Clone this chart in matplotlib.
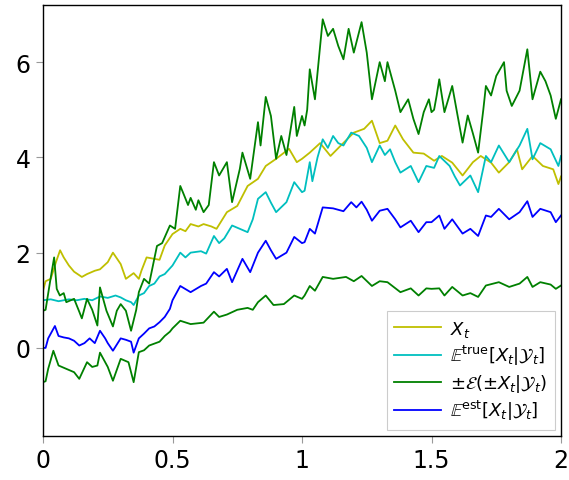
import matplotlib
matplotlib.use("Agg")
import matplotlib.pyplot as plt

plt.rcParams['mathtext.fontset'] = 'dejavusans'
plt.rcParams['font.family'] = ['DejaVu Sans']

# (t, value) samples
x_t_pts = [(0,1.2),(0.01,1.4),(0.03,1.45),(0.05,1.8),(0.066,2.05),(0.08,1.9),(0.1,1.73),(0.12,1.6),
           (0.15,1.49),(0.17,1.55),(0.2,1.62),(0.22,1.65),(0.25,1.8),(0.27,2.0),(0.3,1.76),(0.32,1.45),
           (0.35,1.57),(0.37,1.45),(0.38,1.62),(0.4,1.9),(0.42,1.88),(0.45,1.85),(0.47,2.15),(0.5,2.39),
           (0.53,2.5),(0.55,2.45),(0.57,2.6),(0.6,2.55),(0.62,2.6),(0.65,2.55),(0.67,2.5),(0.71,2.85),(0.75,2.98),
           (0.79,3.4),(0.83,3.55),(0.86,3.82),(0.9,3.97),(0.95,4.18),(0.98,3.9),(1.0,3.97),(1.03,4.1),
           (1.07,4.3),(1.11,4.03),(1.15,4.25),(1.2,4.52),(1.24,4.6),(1.27,4.77),(1.3,4.3),(1.33,4.35),
           (1.36,4.67),(1.39,4.38),(1.43,4.1),(1.47,4.08),(1.51,3.93),(1.54,4.03),(1.58,3.89),(1.62,3.62),
           (1.66,3.9),(1.69,4.03),(1.73,3.89),(1.76,3.68),(1.8,3.9),(1.83,4.17),(1.85,3.75),(1.89,4.03),
           (1.93,3.82),(1.97,3.75),(1.99,3.44),(2.0,3.6)]

e_true_pts = [(0,1.0),(0.03,1.02),(0.06,0.98),(0.1,1.02),(0.13,1.0),(0.16,1.03),(0.19,1.0),(0.22,1.08),
              (0.25,1.05),(0.28,1.1),(0.3,1.06),(0.32,1.0),(0.34,0.96),(0.35,0.9),(0.37,1.1),(0.39,1.15),
              (0.41,1.3),(0.43,1.35),(0.45,1.5),(0.47,1.55),(0.5,1.73),(0.53,2.0),(0.55,1.9),(0.57,2.0),
              (0.61,2.03),(0.63,1.98),(0.66,2.35),(0.68,2.2),(0.7,2.3),(0.73,2.57),(0.76,2.5),(0.79,2.43),
              (0.81,2.7),(0.83,3.13),(0.86,3.27),(0.88,3.05),(0.9,2.85),(0.94,3.06),(0.97,3.48),(1.0,3.27),
              (1.01,3.3),(1.03,3.9),(1.04,3.5),(1.06,4.0),(1.08,4.38),(1.1,4.2),(1.12,4.45),(1.14,4.3),
              (1.16,4.25),(1.19,4.52),(1.22,4.45),(1.25,4.2),(1.27,3.9),(1.3,4.25),(1.32,4.05),(1.34,4.17),
              (1.36,3.9),(1.38,3.68),(1.42,3.82),(1.45,3.48),(1.48,3.82),(1.51,3.78),(1.53,4.03),(1.57,3.82),
              (1.59,3.6),(1.61,3.41),(1.65,3.62),(1.68,3.27),(1.71,4.03),(1.73,3.9),(1.76,4.25),(1.8,3.9),
              (1.84,4.25),(1.87,4.6),(1.89,3.96),(1.92,4.3),(1.96,4.17),(1.99,3.82),(2.0,4.03)]

upper_pts = [(0,0.78),(0.01,0.8),(0.027,1.38),(0.043,1.9),(0.053,1.24),(0.065,1.1),(0.08,1.15),(0.09,0.96),
             (0.12,1.03),(0.14,0.76),(0.15,0.62),(0.17,1.03),(0.19,0.8),(0.21,0.47),(0.22,1.27),(0.245,0.78),
             (0.27,0.45),(0.285,0.78),(0.3,0.92),(0.32,0.78),(0.34,0.36),(0.36,0.8),(0.37,1.17),(0.39,1.45),
             (0.41,1.35),(0.44,2.14),(0.46,2.2),(0.49,2.57),(0.51,2.5),(0.53,3.4),(0.54,3.27),(0.56,3.0),(0.57,3.15),
             (0.59,2.9),(0.6,3.1),(0.62,2.85),(0.64,3.0),(0.66,3.9),(0.68,3.62),(0.71,3.9),(0.73,3.06),(0.76,3.76),
             (0.77,4.1),(0.8,3.55),(0.83,4.74),(0.84,4.25),(0.86,5.27),(0.88,4.87),(0.9,3.97),(0.92,4.45),
             (0.94,4.05),(0.97,5.06),(0.98,4.45),(1.0,4.87),(1.01,4.67),(1.02,5.0),(1.03,5.85),(1.05,5.22),
             (1.07,6.34),(1.08,6.9),(1.1,6.55),(1.12,6.7),(1.14,6.34),(1.16,6.06),(1.18,6.7),(1.2,6.2),
             (1.23,6.84),(1.25,6.2),(1.27,5.22),(1.3,6.0),(1.32,5.6),(1.33,6.0),(1.36,5.4),(1.38,4.95),
             (1.41,5.22),(1.43,4.81),(1.45,4.49),(1.47,4.95),(1.49,5.22),(1.5,4.95),(1.51,5.0),(1.52,5.3),
             (1.53,5.64),(1.55,4.95),(1.58,5.5),(1.6,4.9),(1.62,4.31),(1.64,4.88),(1.66,4.5),(1.68,4.1),
             (1.7,5.0),(1.71,5.5),(1.73,5.3),(1.75,5.71),(1.78,6.0),(1.79,5.4),(1.81,5.08),(1.84,5.4),
             (1.87,6.27),(1.89,5.22),(1.92,5.8),(1.94,5.6),(1.96,5.3),(1.98,4.81),(2.0,5.22)]

lower_pts = [(0,-0.72),(0.01,-0.7),(0.02,-0.44),(0.04,-0.06),(0.06,-0.37),(0.09,-0.44),(0.12,-0.51),
             (0.14,-0.65),(0.17,-0.3),(0.19,-0.4),(0.21,-0.37),(0.22,-0.1),(0.25,-0.4),(0.27,-0.69),
             (0.3,-0.23),(0.33,-0.3),(0.35,-0.72),(0.37,-0.09),(0.39,-0.05),(0.41,0.05),(0.45,0.13),
             (0.47,0.25),(0.49,0.34),(0.5,0.41),(0.53,0.57),(0.57,0.5),(0.62,0.53),(0.66,0.76),(0.68,0.65),
             (0.71,0.7),(0.75,0.8),(0.79,0.84),(0.81,0.8),(0.83,0.96),(0.86,1.1),(0.89,0.9),(0.93,0.92),
             (0.97,1.1),(1.0,1.03),(1.01,1.1),(1.03,1.3),(1.05,1.2),(1.08,1.49),(1.12,1.45),(1.17,1.49),
             (1.2,1.4),(1.23,1.51),(1.27,1.3),(1.3,1.4),(1.33,1.38),(1.38,1.17),(1.42,1.25),(1.45,1.1),
             (1.48,1.25),(1.5,1.24),(1.53,1.25),(1.55,1.1),(1.58,1.28),(1.62,1.1),(1.65,1.15),(1.68,1.07),
             (1.71,1.31),(1.76,1.38),(1.8,1.28),(1.84,1.35),(1.87,1.49),(1.89,1.28),(1.92,1.38),(1.96,1.33),
             (1.98,1.24),(2.0,1.31)]

e_est_pts = [(0,0.0),(0.01,0.0),(0.02,0.2),(0.046,0.46),(0.06,0.25),(0.08,0.22),(0.1,0.2),(0.12,0.15),
             (0.14,0.05),(0.16,0.1),(0.18,0.2),(0.2,0.1),(0.22,0.36),(0.24,0.2),(0.25,0.1),(0.27,-0.06),
             (0.3,0.2),(0.32,0.17),(0.34,0.13),(0.35,-0.1),(0.37,0.2),(0.39,0.3),(0.41,0.41),(0.43,0.45),
             (0.45,0.54),(0.47,0.65),(0.49,0.82),(0.5,1.0),(0.53,1.3),(0.57,1.17),(0.61,1.3),(0.63,1.35),
             (0.66,1.59),(0.68,1.5),(0.71,1.66),(0.73,1.38),(0.77,1.87),(0.8,1.59),(0.83,2.0),(0.86,2.25),
             (0.88,2.05),(0.9,1.87),(0.94,2.0),(0.97,2.33),(1.0,2.2),(1.01,2.22),(1.03,2.5),(1.05,2.4),
             (1.08,2.95),(1.12,2.93),(1.16,2.87),(1.19,3.06),(1.21,2.95),(1.23,3.07),(1.25,2.9),(1.27,2.67),
             (1.3,2.88),(1.33,2.92),(1.36,2.7),(1.38,2.53),(1.42,2.67),(1.45,2.43),(1.48,2.64),(1.5,2.64),
             (1.53,2.78),(1.55,2.5),(1.58,2.7),(1.62,2.4),(1.65,2.5),(1.68,2.35),(1.71,2.78),(1.73,2.75),
             (1.76,2.92),(1.8,2.7),(1.84,2.85),(1.87,3.08),(1.89,2.75),(1.92,2.92),(1.96,2.85),(1.98,2.64),
             (2.0,2.78)]

labels = [r'$X_t$',
          r'$\mathbb{E}^{\mathsf{true}}[X_t|\mathcal{Y}_t]$',
          r'$\pm\mathcal{E}(\pm X_t|\mathcal{Y}_t)$',
          r'$\mathbb{E}^{\mathsf{est}}[X_t|\mathcal{Y}_t]$']
x_ticks = [0, 0.5, 1, 1.5, 2]
x_tick_labels = ['0', '0.5', '1', '1.5', '2']
y_ticks = [0, 2, 4, 6]

def split(pts):
    return [p[0] for p in pts], [p[1] for p in pts]

fig = plt.figure(figsize=(5.69, 4.81), dpi=100)
ax = fig.add_axes([43/569, 1-437/481, (561-43)/569, (437-6)/481])

lw = 1.3
ax.plot(*split(x_t_pts), color='#bfbf00', lw=lw, label=labels[0])
ax.plot(*split(e_true_pts), color='#00bfbf', lw=lw, label=labels[1])
ax.plot(*split(upper_pts), color='#008000', lw=lw, label=labels[2])
ax.plot(*split(lower_pts), color='#008000', lw=lw)
ax.plot(*split(e_est_pts), color='#0000ff', lw=lw, label=labels[3])

ax.set_xlim(0, 2)
ax.set_ylim(-1.85, 7.2)
ax.set_xticks(x_ticks)
ax.set_xticklabels(x_tick_labels)
ax.set_yticks(y_ticks)
ax.tick_params(direction='out', length=5, width=0.8, color='#999999', labelsize=17, pad=4)
for s in ax.spines.values():
    s.set_linewidth(1.0)
    s.set_color('black')

leg = ax.legend(loc='lower right', fontsize=13, frameon=True, fancybox=False,
                edgecolor='#cccccc', framealpha=1, handlelength=2.6, borderaxespad=0.35,
                labelspacing=0.25, handletextpad=0.5, borderpad=0.4)
leg.get_frame().set_linewidth(0.8)

fig.savefig('out.png', dpi=100)
